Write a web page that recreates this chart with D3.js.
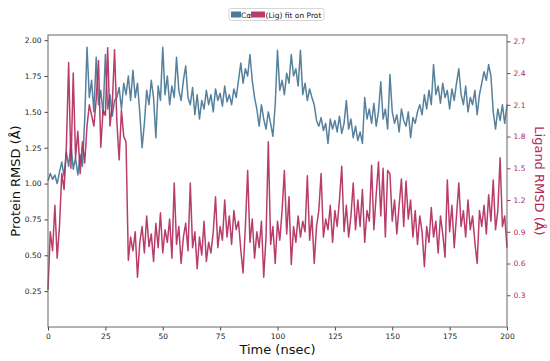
<!DOCTYPE html>
<html>
<head>
<meta charset="utf-8">
<script src="https://cdn.jsdelivr.net/npm/d3@7"></script>
<style>
  body { margin: 0; background: #fff; }
  svg { font-family: "DejaVu Sans", sans-serif; }
</style>
</head>
<body>
<div id="chart"></div>
<script>
const WIDTH = 550;
const HEIGHT = 361;
const MARGIN = { TOP: 35, BOTTOM: 34, LEFT: 48, RIGHT: 43 };

const width = WIDTH - MARGIN.LEFT - MARGIN.RIGHT;
const height = HEIGHT - MARGIN.TOP - MARGIN.BOTTOM;

const PROT_COLOR = '#4d7a98';
const LIG_COLOR = '#b0285a';

// time in nsec, one frame per nsec
const timeTicks = [0, 25, 50, 75, 100, 125, 150, 175, 200];
const protTicks = [0.25, 0.5, 0.75, 1.0, 1.25, 1.5, 1.75, 2.0];
const ligTicks = [0.3, 0.6, 0.9, 1.2, 1.5, 1.8, 2.1, 2.4, 2.7];

const protein = [
  1.02, 1.07, 1.03, 1.06, 1.00, 1.08, 1.15, 1.05, 1.22, 1.12,
  1.28, 1.10, 1.18, 1.06, 1.20, 1.12, 1.45, 1.95, 1.60, 1.72,
  1.50, 1.88, 1.55, 1.65, 1.48, 1.90, 1.52, 1.62, 1.47, 1.58,
  1.60, 1.67, 1.52, 1.70, 1.62, 1.75, 1.58, 1.79, 1.60, 1.70,
  1.49, 1.25, 1.42, 1.65, 1.55, 1.72, 1.60, 1.32, 1.68, 1.58,
  1.95, 1.62, 1.75, 1.55, 1.68, 1.60, 1.88, 1.65, 1.58, 1.72,
  1.82, 1.60, 1.55, 1.67, 1.48, 1.62, 1.45, 1.58, 1.52, 1.65,
  1.55, 1.62, 1.50, 1.66, 1.58, 1.63, 1.54, 1.68, 1.57, 1.62,
  1.55, 1.66, 1.60, 1.72, 1.84, 1.70, 1.80, 1.75, 1.90, 1.72,
  1.60, 1.52, 1.40, 1.55, 1.45, 1.38, 1.50, 1.42, 1.33, 1.55,
  1.93, 1.65, 1.72, 1.62, 1.77, 1.70, 1.90, 1.75, 1.80, 1.68,
  1.93, 1.62, 1.70, 1.58, 1.66, 1.60, 1.55, 1.44, 1.40, 1.46,
  1.37, 1.42, 1.28, 1.45, 1.38, 1.44, 1.36, 1.47, 1.35, 1.42,
  1.58, 1.38, 1.45, 1.32, 1.40, 1.30, 1.36, 1.28, 1.60, 1.45,
  1.52, 1.42, 1.56, 1.40, 1.50, 1.71, 1.45, 1.52, 1.38, 1.76,
  1.50, 1.42, 1.48, 1.36, 1.52, 1.44, 1.40, 1.50, 1.32, 1.46,
  1.42, 1.50, 1.55, 1.48, 1.62, 1.52, 1.65, 1.55, 1.83, 1.62,
  1.68, 1.56, 1.70, 1.60, 1.65, 1.52, 1.66, 1.58, 1.70, 1.80,
  1.62, 1.55, 1.68, 1.50, 1.60, 1.55, 1.65, 1.48, 1.62, 1.70,
  1.78, 1.72, 1.83, 1.75, 1.50, 1.38, 1.52, 1.44, 1.55, 1.42,
  1.55
];

const ligand = [
  0.35, 0.90, 0.72, 1.15, 0.65, 0.95, 1.45, 1.30, 1.70, 2.50,
  1.50, 2.40, 1.60, 1.85, 1.45, 1.75, 1.55, 1.90, 2.10, 2.00,
  1.90, 2.15, 2.52, 1.70, 2.05, 2.00, 2.64, 1.90, 2.10, 2.62,
  1.95, 1.58, 2.05, 1.80, 1.75, 0.63, 0.85, 0.72, 0.90, 0.47,
  0.80, 0.95, 0.70, 1.05, 0.76, 0.88, 0.62, 0.98, 0.75, 1.08,
  0.70, 0.92, 0.80, 1.02, 0.65, 1.36, 0.78, 0.95, 0.60, 0.85,
  0.98, 0.72, 1.36, 0.75, 0.90, 0.55, 0.85, 0.68, 1.00, 0.62,
  0.80, 0.70, 0.90, 1.23, 0.75, 0.95, 0.82, 1.20, 0.85, 1.05,
  0.78, 1.10, 0.92, 1.00, 0.73, 0.51, 0.95, 1.48, 0.80, 1.02,
  0.65, 0.90, 0.75, 1.00, 0.47, 0.85, 1.75, 0.78, 0.95, 0.60,
  1.00, 0.82, 1.10, 1.48, 0.88, 1.23, 0.59, 0.95, 0.80, 1.05,
  0.85, 1.00, 0.90, 1.43, 0.82, 1.05, 0.60, 0.95, 1.10, 1.45,
  0.85, 1.02, 0.92, 1.15, 0.80, 1.10, 0.95, 1.20, 1.52, 0.90,
  1.15, 0.85, 1.05, 1.36, 0.92, 1.20, 0.95, 1.30, 0.80, 1.10,
  1.00, 1.53, 0.92, 1.25, 1.56, 1.05, 1.50, 0.85, 1.48, 1.45,
  1.00, 1.20, 0.88, 1.15, 1.40, 0.95, 1.38, 1.02, 1.20, 0.85,
  1.10, 0.78, 1.05, 0.90, 0.57, 0.95, 0.80, 1.13, 0.85, 1.00,
  0.70, 1.05, 0.88, 0.66, 1.39, 0.90, 1.15, 0.75, 1.05, 1.36,
  0.95, 1.10, 0.85, 1.20, 0.92, 1.05, 0.80, 0.60, 1.10, 0.95,
  1.15, 0.88, 1.25, 1.00, 1.39, 0.92, 1.10, 1.60, 0.95, 1.05,
  0.75
];

const svg = d3.select('#chart')
  .append('svg')
    .attr('width', WIDTH)
    .attr('height', HEIGHT);

const container = svg.append('g')
    .attr('transform', `translate(${MARGIN.LEFT}, ${MARGIN.TOP})`);

const x = d3.scaleLinear().domain([0, 200]).range([0, width]);
const yProt = d3.scaleLinear().domain([0, 2.036]).range([height, 0]);
const yLig = d3.scaleLinear().domain([0, 2.76]).range([height, 0]);

// axes
const xAxis = container.append('g')
    .attr('transform', `translate(0, ${height})`)
    .call(d3.axisBottom(x).tickValues(timeTicks).tickSize(3.5).tickPadding(3));

const leftAxis = container.append('g')
    .call(d3.axisLeft(yProt).tickValues(protTicks)
      .tickFormat(d3.format('.2f')).tickSize(3.5).tickPadding(3));

const rightAxis = container.append('g')
    .attr('transform', `translate(${width}, 0)`)
    .call(d3.axisRight(yLig).tickValues(ligTicks)
      .tickFormat(d3.format('.1f')).tickSize(3.5).tickPadding(3));

[xAxis, leftAxis, rightAxis].forEach(a => {
  a.select('.domain').remove();
  a.selectAll('text').attr('font-size', 7.5).attr('font-family', '"DejaVu Sans", sans-serif');
});
xAxis.selectAll('line').attr('stroke', '#444');
leftAxis.selectAll('line').attr('stroke', '#444');
xAxis.selectAll('text').attr('fill', '#222');
leftAxis.selectAll('text').attr('fill', '#222');
rightAxis.selectAll('line').attr('stroke', LIG_COLOR);
rightAxis.selectAll('text').attr('fill', LIG_COLOR);

// lines
const protLine = d3.line()
    .x((d, i) => x(i))
    .y(d => yProt(d));

const ligLine = d3.line()
    .x((d, i) => x(i))
    .y(d => yLig(d));

container.append('path')
    .datum(protein)
    .attr('fill', 'none')
    .attr('stroke', PROT_COLOR)
    .attr('stroke-width', 1.5)
    .attr('stroke-opacity', 0.95)
    .attr('stroke-linejoin', 'round')
    .attr('d', protLine);

container.append('path')
    .datum(ligand)
    .attr('fill', 'none')
    .attr('stroke', LIG_COLOR)
    .attr('stroke-width', 1.5)
    .attr('stroke-opacity', 0.9)
    .attr('stroke-linejoin', 'round')
    .attr('d', ligLine);

// frame
container.append('rect')
    .attr('width', width)
    .attr('height', height)
    .attr('fill', 'none')
    .attr('stroke', '#666')
    .attr('stroke-width', 1);

// axis titles
svg.append('text')
    .attr('x', MARGIN.LEFT + width / 2)
    .attr('y', 354)
    .attr('text-anchor', 'middle')
    .attr('font-size', 13)
    .attr('fill', '#111')
    .text('Time (nsec)');

svg.append('text')
    .attr('transform', `translate(20, ${MARGIN.TOP + height / 2}) rotate(-90)`)
    .attr('text-anchor', 'middle')
    .attr('font-size', 13)
    .attr('fill', '#111')
    .text('Protein RMSD (Å)');

svg.append('text')
    .attr('transform', `translate(535, ${MARGIN.TOP + height / 2}) rotate(90)`)
    .attr('text-anchor', 'middle')
    .attr('font-size', 13)
    .attr('fill', LIG_COLOR)
    .text('Ligand RMSD (Å)');

// legend (entries overlap as in the original)
const legend = svg.append('g');
legend.append('rect')
    .attr('x', 229).attr('y', 8.5)
    .attr('width', 95).attr('height', 12)
    .attr('rx', 2)
    .attr('fill', '#fff')
    .attr('stroke', '#ccc')
    .attr('stroke-width', 0.8);
legend.append('rect')
    .attr('x', 231).attr('y', 11.5)
    .attr('width', 10).attr('height', 6)
    .attr('fill', PROT_COLOR);
legend.append('text')
    .attr('x', 241).attr('y', 17.5)
    .attr('font-size', 7.5)
    .attr('fill', '#111')
    .text('Cα');
legend.append('rect')
    .attr('x', 251).attr('y', 11.5)
    .attr('width', 14).attr('height', 6)
    .attr('fill', LIG_COLOR)
    .attr('opacity', 0.9);
legend.append('text')
    .attr('x', 265.5).attr('y', 17.5)
    .attr('font-size', 7.5)
    .attr('fill', '#111')
    .text('(Lig) fit on Prot');
</script>
</body>
</html>
